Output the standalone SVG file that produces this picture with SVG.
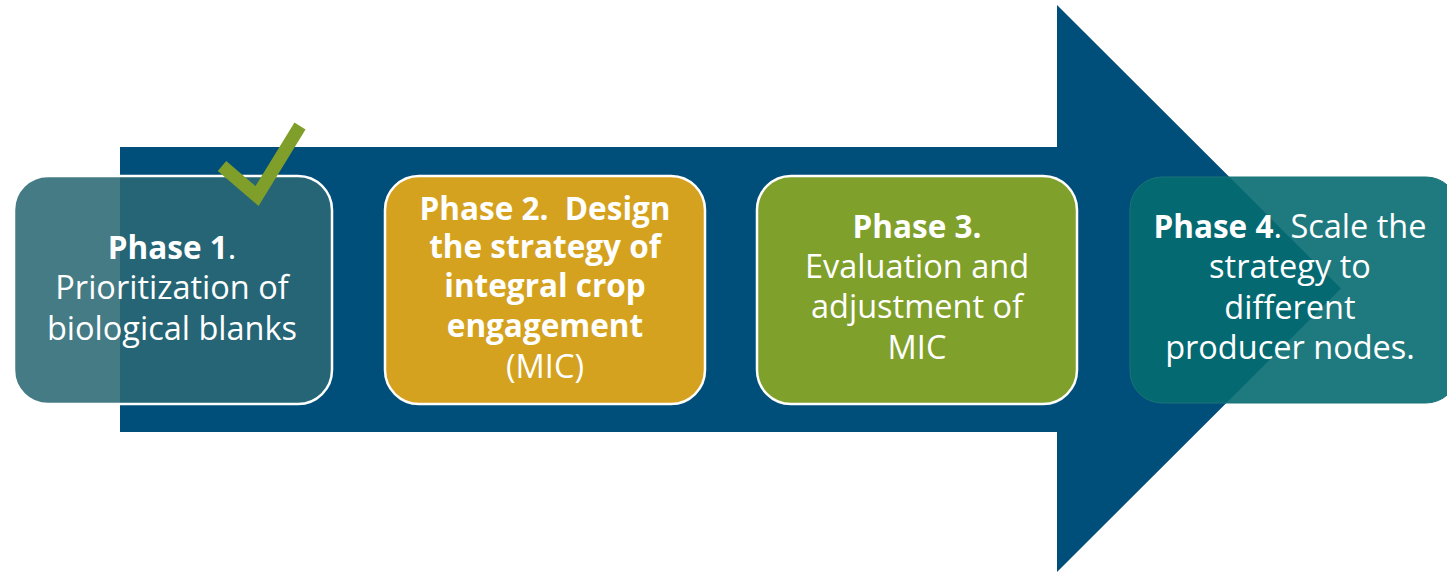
<svg xmlns="http://www.w3.org/2000/svg" width="1447" height="572" viewBox="0 0 1447 572">
<style>
.t{font-family:"Open Sans","Liberation Sans",sans-serif;font-size:32.5px;fill:#ffffff;text-anchor:middle}
.b{font-weight:bold;font-size:31.5px}
.box{stroke:#ffffff;stroke-width:2.5}
</style>
<rect width="1447" height="572" fill="#ffffff"/>
<g id="arrow">
<polygon points="120,147 1057,147 1057,5 1341,288.5 1057,572 1057,432 120,432" fill="#004f7b"/>
</g>
<g id="connectors"></g>
<g id="phase1">
<rect x="14" y="176" width="318" height="228" rx="34" fill="#2a6974" fill-opacity="0.88" class="box"/>
<text class="t" x="172" y="259"><tspan class="b">Phase 1</tspan>.</text>
<text class="t" x="172" y="299">Prioritization of</text>
<text class="t" x="172" y="340">biological blanks</text>
</g>
<g id="check">
<polyline points="222,166 257,196 300,126" fill="none" stroke="#7f9f2a" stroke-width="13"/>
</g>
<g id="phase2">
<rect x="385" y="176" width="320" height="228" rx="34" fill="#d4a21f" class="box"/>
<text class="t b" x="545" y="220" xml:space="preserve">Phase 2.  Design</text>
<text class="t b" x="545" y="258">the strategy of</text>
<text class="t b" x="545" y="297">integral crop</text>
<text class="t b" x="545" y="337">engagement</text>
<text class="t" x="545" y="378">(MIC)</text>
</g>
<g id="phase3">
<rect x="757" y="176" width="320" height="228" rx="34" fill="#80a02c" class="box"/>
<text class="t b" x="917" y="238">Phase 3.</text>
<text class="t" x="917" y="278">Evaluation and</text>
<text class="t" x="917" y="318">adjustment of</text>
<text class="t" x="917" y="359">MIC</text>
</g>
<g id="phase4">
<rect x="1130" y="177" width="328" height="226" rx="32" fill="#066b70" fill-opacity="0.9" stroke="#1a7478" stroke-width="1"/>
<text class="t" x="1290" y="238"><tspan class="b">Phase 4</tspan>. Scale the</text>
<text class="t" x="1290" y="278">strategy to</text>
<text class="t" x="1290" y="319">different</text>
<text class="t" x="1290" y="359">producer nodes.</text>
</g>
</svg>
